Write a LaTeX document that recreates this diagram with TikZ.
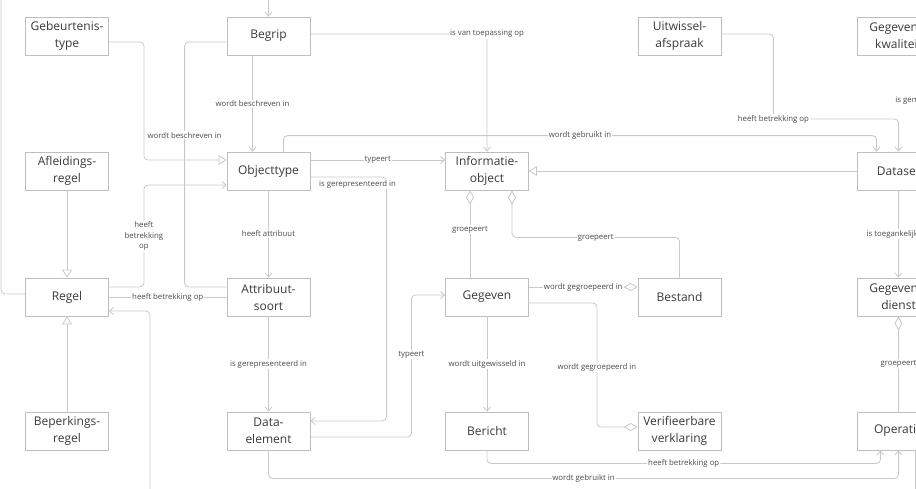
\documentclass[tikz,border=0pt]{standalone}
\usepackage{fontspec}
\setmainfont{Open Sans}
\usetikzlibrary{arrows.meta}

\definecolor{lijn}{HTML}{C8C8C8}
\definecolor{rand}{HTML}{BEBEBE}
\definecolor{tekst}{HTML}{3A3A3A}
\definecolor{lbltekst}{HTML}{4A4A4A}

\tikzset{
  klasse/.style={draw=rand, fill=white, line width=0.8pt, minimum width=83pt,
    minimum height=38pt, inner sep=0pt, align=center, text=tekst,
    font=\fontsize{12}{17}\selectfont},
  relatie/.style={draw=lijn, line width=0.8pt, rounded corners=4pt},
  lbl/.style={fill=white, inner sep=1pt, text=lbltekst, align=center,
    font=\fontsize{7.8}{10.5}\selectfont},
  pijl/.tip={Straight Barb[length=4pt,width=7pt]},
  generalisatie/.tip={Triangle[open,length=8pt,width=10pt]},
  ruit/.tip={Diamond[open,length=14pt,width=8pt]},
}

\begin{document}
\begin{tikzpicture}[x=1pt,y=-1pt]

  \useasboundingbox (0,0) rectangle (916,488);
  \clip (0,0) rectangle (916,488);

  \node [klasse] (Gebeurtenistype) at (67,36) {Gebeurtenis-\\type};
  \node [klasse] (Begrip) at (268.5,36) {Begrip};
  \node [klasse] (Uitwisselafspraak) at (679.5,36) {Uitwissel-\\afspraak};
  \node [klasse] (Gegevenskwaliteit) at (898.5,36) {Gegevens-\\kwaliteit};

  \node [klasse] (Afleidingsregel) at (67,171) {Afleidings-\\regel};
  \node [klasse] (Objecttype) at (268.5,171) {Objecttype};
  \node [klasse] (Informatieobject) at (487,171) {Informatie-\\object};
  \node [klasse] (Dataset) at (898.5,171) {Dataset};

  \node [klasse] (Regel) at (67,297) {Regel};
  \node [klasse] (Attribuutsoort) at (268.5,297) {Attribuut-\\soort};
  \node [klasse] (Gegeven) at (487,297) {Gegeven};
  \node [klasse] (Bestand) at (679.5,297) {Bestand};
  \node [klasse] (Gegevensdienst) at (898.5,297) {Gegevens-\\dienst};

  \node [klasse] (Beperkingsregel) at (67,431) {Beperkings-\\regel};
  \node [klasse] (Dataelement) at (268.5,431) {Data-\\element};
  \node [klasse] (Bericht) at (487,431) {Bericht};
  \node [klasse] (Verklaring) at (679.5,431) {Verifieerbare\\verklaring};
  \node [klasse] (Operatie) at (898.5,431) {Operatie};

  % lijnen die buiten beeld doorlopen
  \coordinate (boven) at (268.5,-10);
  \coordinate (links) at (1,-10);
  \coordinate (onder) at (150,500);
  \coordinate (rechtsonder) at (915,500);

  \draw[relatie,-pijl] (boven) -- (Begrip.north);
  \draw[relatie] (links) |- ([yshift=3pt]Regel.west);
  \draw[relatie,-pijl] (onder) |- ([yshift=-14pt]Regel.east);
  \draw[relatie] ([xshift=16.5pt]Operatie.south) -- (rechtsonder);

  \draw[relatie,-pijl] ([yshift=2pt]Begrip.east) -| (Informatieobject.north)
    node[lbl,pos=0.5]{is van toepassing op};
  \draw[relatie,-pijl] ([xshift=-16pt]Begrip.south) -- ([xshift=-16pt]Objecttype.north)
    node[lbl,midway]{wordt beschreven in};
  \draw[relatie] ([yshift=-6pt]Begrip.west) -- ++(-42,0) |- ([yshift=10pt]Attribuutsoort.west)
    node[lbl,pos=0.19]{wordt beschreven in};
  \draw[relatie,-generalisatie] ([yshift=-6pt]Gebeurtenistype.east) -- ++(35,0)
    |- ([yshift=11pt]Objecttype.west);

  \draw[relatie,-pijl] ([yshift=11pt]Objecttype.east) -- ([yshift=11pt]Informatieobject.west)
    node[lbl,midway]{typeert};
  \draw[relatie,-pijl] ([yshift=-6pt]Objecttype.east) -- ++(76,0)
    node[lbl,pos=0.62,below=2pt]{is gerepresenteerd in} |- ([yshift=10pt]Dataelement.east);
  \draw[relatie,-pijl] ([xshift=15pt]Objecttype.north) -- ++(0,-16) -| ([xshift=-22pt]Dataset.north)
    node[lbl,pos=0.25]{wordt gebruikt in};
  \draw[relatie,-pijl] ([yshift=2pt]Uitwisselafspraak.east) -- ++(52,0) -- ++(0,85)
    node[lbl]{heeft betrekking op} -| (Dataset.north);
  \draw[relatie,-pijl] ([xshift=31.5pt]Gegevenskwaliteit.south) -- ([xshift=31.5pt]Dataset.north)
    node[lbl,pos=0.47,anchor=west,xshift=-36pt]{is gem};

  \draw[relatie,-generalisatie] (Dataset.west) -- (Informatieobject.east);
  \draw[relatie,-pijl] (Dataset.south) -- (Gegevensdienst.north)
    node[lbl,midway]{is toegankelijk via};
  \draw[relatie,ruit-] (Gegevensdienst.south) -- (Operatie.north)
    node[lbl,midway]{groepeert};

  \draw[relatie,ruit-] ([xshift=-17pt]Informatieobject.south) -- ([xshift=-17pt]Gegeven.north)
    node[lbl,pos=0.45]{groepeert};
  \draw[relatie,ruit-] ([xshift=25pt]Informatieobject.south) -- ++(0,47) -| (Bestand.north)
    node[lbl,pos=0.25]{groepeert};
  \draw[relatie,-ruit] ([yshift=10pt]Gegeven.east) -- ([yshift=10pt]Bestand.west)
    node[lbl,midway]{wordt gegroepeerd in};
  \draw[relatie,-ruit] ([yshift=-6pt]Gegeven.east) -- ++(68,0) |- ([yshift=4pt]Verklaring.west)
    node[lbl,pos=0.26]{wordt gegroepeerd in};
  \draw[relatie,-pijl] (Gegeven.south) -- (Bericht.north)
    node[lbl,midway]{wordt uitgewisseld in};
  \draw[relatie,-pijl] ([yshift=-6pt]Dataelement.east) -- ++(101,0) |- ([yshift=2pt]Gegeven.west)
    node[lbl,pos=0.29]{typeert};

  \draw[relatie,-pijl] (Objecttype.south) -- (Attribuutsoort.north)
    node[lbl,midway]{heeft attribuut};
  \draw[relatie,-pijl] (Attribuutsoort.south) -- (Dataelement.north)
    node[lbl,midway]{is gerepresenteerd in};
  \draw[relatie] (Regel.east) -- (Attribuutsoort.west)
    node[lbl,midway]{heeft betrekking op};
  \draw[relatie,-pijl] ([yshift=10pt]Regel.east) -- ++(35,0) |- ([yshift=-14pt]Objecttype.west)
    node[lbl,pos=0.25]{heeft\\betrekking\\op};
  \draw[relatie,-generalisatie] (Afleidingsregel.south) -- (Regel.north);
  \draw[relatie,-generalisatie] (Beperkingsregel.north) -- (Regel.south);

  \draw[relatie,-pijl] (Dataelement.south) -- ++(0,28) -| (Operatie.south)
    node[lbl,pos=0.25]{wordt gebruikt in};
  \draw[relatie,-pijl] (Bericht.south) -- ++(0,13) -| ([xshift=-18pt]Operatie.south)
    node[lbl,pos=0.25]{heeft betrekking op};

%  \draw[help lines,step=50] (0,0) grid (916,488);

\end{tikzpicture}
\end{document}
